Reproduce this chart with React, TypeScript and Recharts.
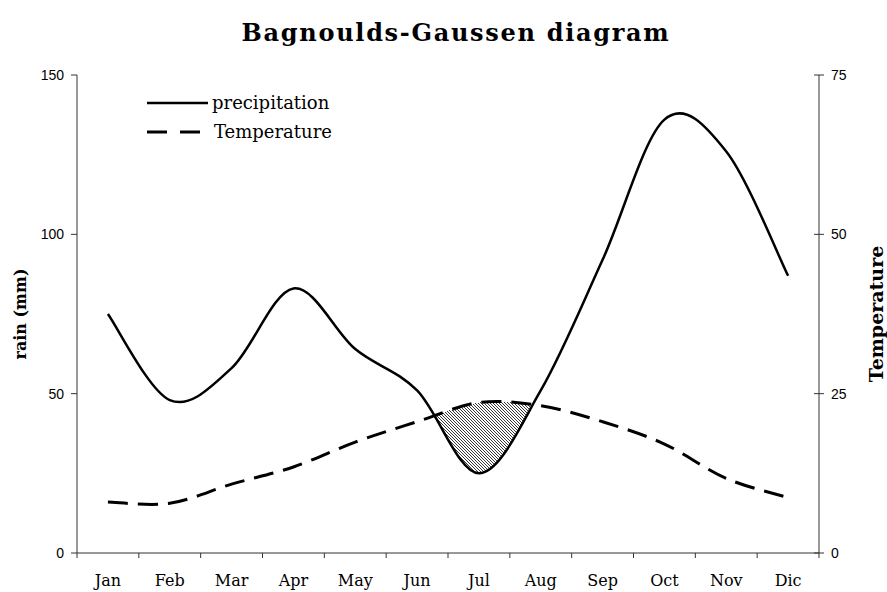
import { ComposedChart, Line, Area, XAxis, YAxis, Legend } from 'recharts'

const MONTHS = ['Jan', 'Feb', 'Mar', 'Apr', 'May', 'Jun', 'Jul', 'Aug', 'Sep', 'Oct', 'Nov', 'Dic']
// precipitation, mm (left axis)
const RAIN = [75, 48, 58, 83, 64, 51, 25, 51, 92, 136, 126, 87]
// temperature, °C (right axis, 0-75 = half of rain scale)
const TEMP = [8, 7.8, 10.8, 13.5, 17.4, 20.6, 23.6, 23.1, 20.6, 17.1, 11.7, 8.7]
const RAIN_TICKS = [0, 50, 100, 150]
const TEMP_TICKS = [0, 25, 50, 75]
const MONTH_TICKS = [0, 1, 2, 3, 4, 5, 6, 7, 8, 9, 10, 11, 12]
const LEGEND_NAMES = ['precipitation', 'Temperature']

const W = 887
const H = 592
const LEFT_W = 77
const RIGHT_W = 68
const TOP = 75
const BOTTOM_H = 39
const HALF_BAND = (W - LEFT_W - RIGHT_W) / 24

const SERIF = '"DejaVu Serif", serif'
const SANS = '"Liberation Sans", Arial, sans-serif'
const AXIS = '#333'

// month i sits in the middle of its band, ticks are on the band edges
const data = MONTHS.map((m, i) => ({ x: i + 0.5, month: m, rain: RAIN[i], temp: TEMP[i] }))

// Excel-like smoothed line (uniform Catmull-Rom as cubic beziers)
function excelSmooth(context: any) {
  let pts: number[][] = []
  let line = NaN
  return {
    areaStart() { line = 0 },
    areaEnd() { line = NaN },
    lineStart() { pts = [] },
    point(x: number, y: number) { pts.push([+x, +y]) },
    lineEnd() {
      const n = pts.length
      if (n > 0) {
        if (line) context.lineTo(pts[0][0], pts[0][1])
        else context.moveTo(pts[0][0], pts[0][1])
        for (let i = 0; i < n - 1; i++) {
          const p0 = pts[Math.max(i - 1, 0)]
          const p1 = pts[i]
          const p2 = pts[i + 1]
          const p3 = pts[Math.min(i + 2, n - 1)]
          context.bezierCurveTo(
            p1[0] + (p2[0] - p0[0]) / 6, p1[1] + (p2[1] - p0[1]) / 6,
            p2[0] - (p3[0] - p1[0]) / 6, p2[1] - (p3[1] - p1[1]) / 6,
            p2[0], p2[1],
          )
        }
      }
      if (line || (line !== 0 && n === 1)) context.closePath()
      line = 1 - line
    },
  }
}

const MonthTick = (props: any) => {
  const { x, y, payload } = props
  const label = MONTHS[payload.value]
  if (!label) return <g />
  return (
    <text x={x + HALF_BAND} y={y + 15} dy="0.71em" textAnchor="middle" fontFamily={SERIF} fontSize={16} fill="#000">
      {label}
    </text>
  )
}

// right axis: tick mark crosses the axis line
const RightTick = (props: any) => {
  const { x, y, payload } = props
  return (
    <g>
      <line x1={x - 17} x2={x - 7} y1={y} y2={y} stroke={AXIS} />
      <text x={x} y={y} dy="0.35em" textAnchor="start" fontFamily={SANS} fontSize={14} fill="#000">
        {payload.value}
      </text>
    </g>
  )
}

const axisTitle = (text: string, dx: number, size: number) => (props: any) => {
  const vb = props.viewBox
  const cx = vb.x + dx
  const cy = vb.y + vb.height / 2
  return (
    <text x={cx} y={cy} transform={`rotate(-90 ${cx} ${cy})`} textAnchor="middle" dominantBaseline="central"
      fontFamily={SERIF} fontWeight="bold" fontSize={size} fill="#000">
      {text}
    </text>
  )
}

const renderLegend = (props: any) => {
  const items = (props.payload || [])
    .filter((p: any) => LEGEND_NAMES.includes(p.value))
    .sort((a: any, b: any) => LEGEND_NAMES.indexOf(a.value) - LEGEND_NAMES.indexOf(b.value))
  return (
    <div>
      {items.map((entry: any) => {
        const dashed = entry.dataKey === 'temp'
        return (
          <div key={entry.value} style={{ display: 'flex', alignItems: 'center', height: 29 }}>
            <svg width={61} height={6} style={{ display: 'block' }}>
              <line x1={0} x2={61} y1={3} y2={3} stroke="#000" strokeWidth={dashed ? 3 : 2.5}
                strokeDasharray={dashed ? '20 13' : undefined} />
            </svg>
            <span style={{ marginLeft: dashed ? 6 : 4, fontFamily: SERIF, fontSize: 18, color: '#000' }}>{entry.value}</span>
          </div>
        )
      })}
    </div>
  )
}

export default function App() {
  return (
    <div style={{ position: 'absolute', left: 0, top: 0, width: W, height: H, background: '#fff' }}>
      <svg width={0} height={0} style={{ position: 'absolute' }}>
        <defs>
          <pattern id="hatch" patternUnits="userSpaceOnUse" width={3} height={3}>
            <path d="M0,0 L3,3 M-1,2 L1,4 M2,-1 L4,1" stroke="#222" strokeWidth={0.9} />
          </pattern>
        </defs>
      </svg>
      <div
        style={{
          position: 'absolute', left: 0, top: 18, width: 912, textAlign: 'center',
          fontFamily: SERIF, fontWeight: 'bold', fontSize: 24, letterSpacing: 1.7, color: '#000', zIndex: 1,
        }}
      >
        Bagnoulds-Gaussen diagram
      </div>
      <ComposedChart width={W} height={H} data={data} margin={{ top: TOP, right: 0, bottom: 0, left: 0 }}>
        <Area yAxisId="temp" dataKey="temp" type={excelSmooth as any} fill="url(#hatch)" fillOpacity={1}
          stroke="none" legendType="none" shapeRendering="crispEdges" isAnimationActive={false} />
        <Area yAxisId="rain" dataKey="rain" type={excelSmooth as any} fill="#fff" fillOpacity={1}
          stroke="none" legendType="none" shapeRendering="crispEdges" isAnimationActive={false} />
        <Line yAxisId="rain" dataKey="rain" name="precipitation" type={excelSmooth as any} stroke="#000"
          strokeWidth={2.5} dot={false} activeDot={false} isAnimationActive={false} />
        <Line yAxisId="temp" dataKey="temp" name="Temperature" type={excelSmooth as any} stroke="#000"
          strokeWidth={3} strokeDasharray="20 10" dot={false} activeDot={false} isAnimationActive={false} />
        <XAxis dataKey="x" type="number" domain={[0, 12]} ticks={MONTH_TICKS} interval={0} height={BOTTOM_H}
          tick={<MonthTick />} tickSize={5} stroke={AXIS} allowDecimals={false} />
        <YAxis yAxisId="rain" orientation="left" width={LEFT_W} domain={[0, 150]} ticks={RAIN_TICKS}
          tickSize={6} tickMargin={7} stroke={AXIS}
          tick={{ fontFamily: SANS, fontSize: 14, fill: '#000' }}
          label={{ content: axisTitle('rain (mm)', 20, 16) }} />
        <YAxis yAxisId="temp" orientation="right" width={RIGHT_W} domain={[0, 75]} ticks={TEMP_TICKS}
          tickSize={5} tickMargin={7} tickLine={false} stroke={AXIS} tick={<RightTick />}
          label={{ content: axisTitle('Temperature', 57, 19) }} />
        <Legend layout="vertical" align="center" verticalAlign="middle" content={renderLegend}
          wrapperStyle={{ position: 'absolute', left: 147, top: 88, width: 'auto', height: 'auto' }} />
      </ComposedChart>
    </div>
  )
}
